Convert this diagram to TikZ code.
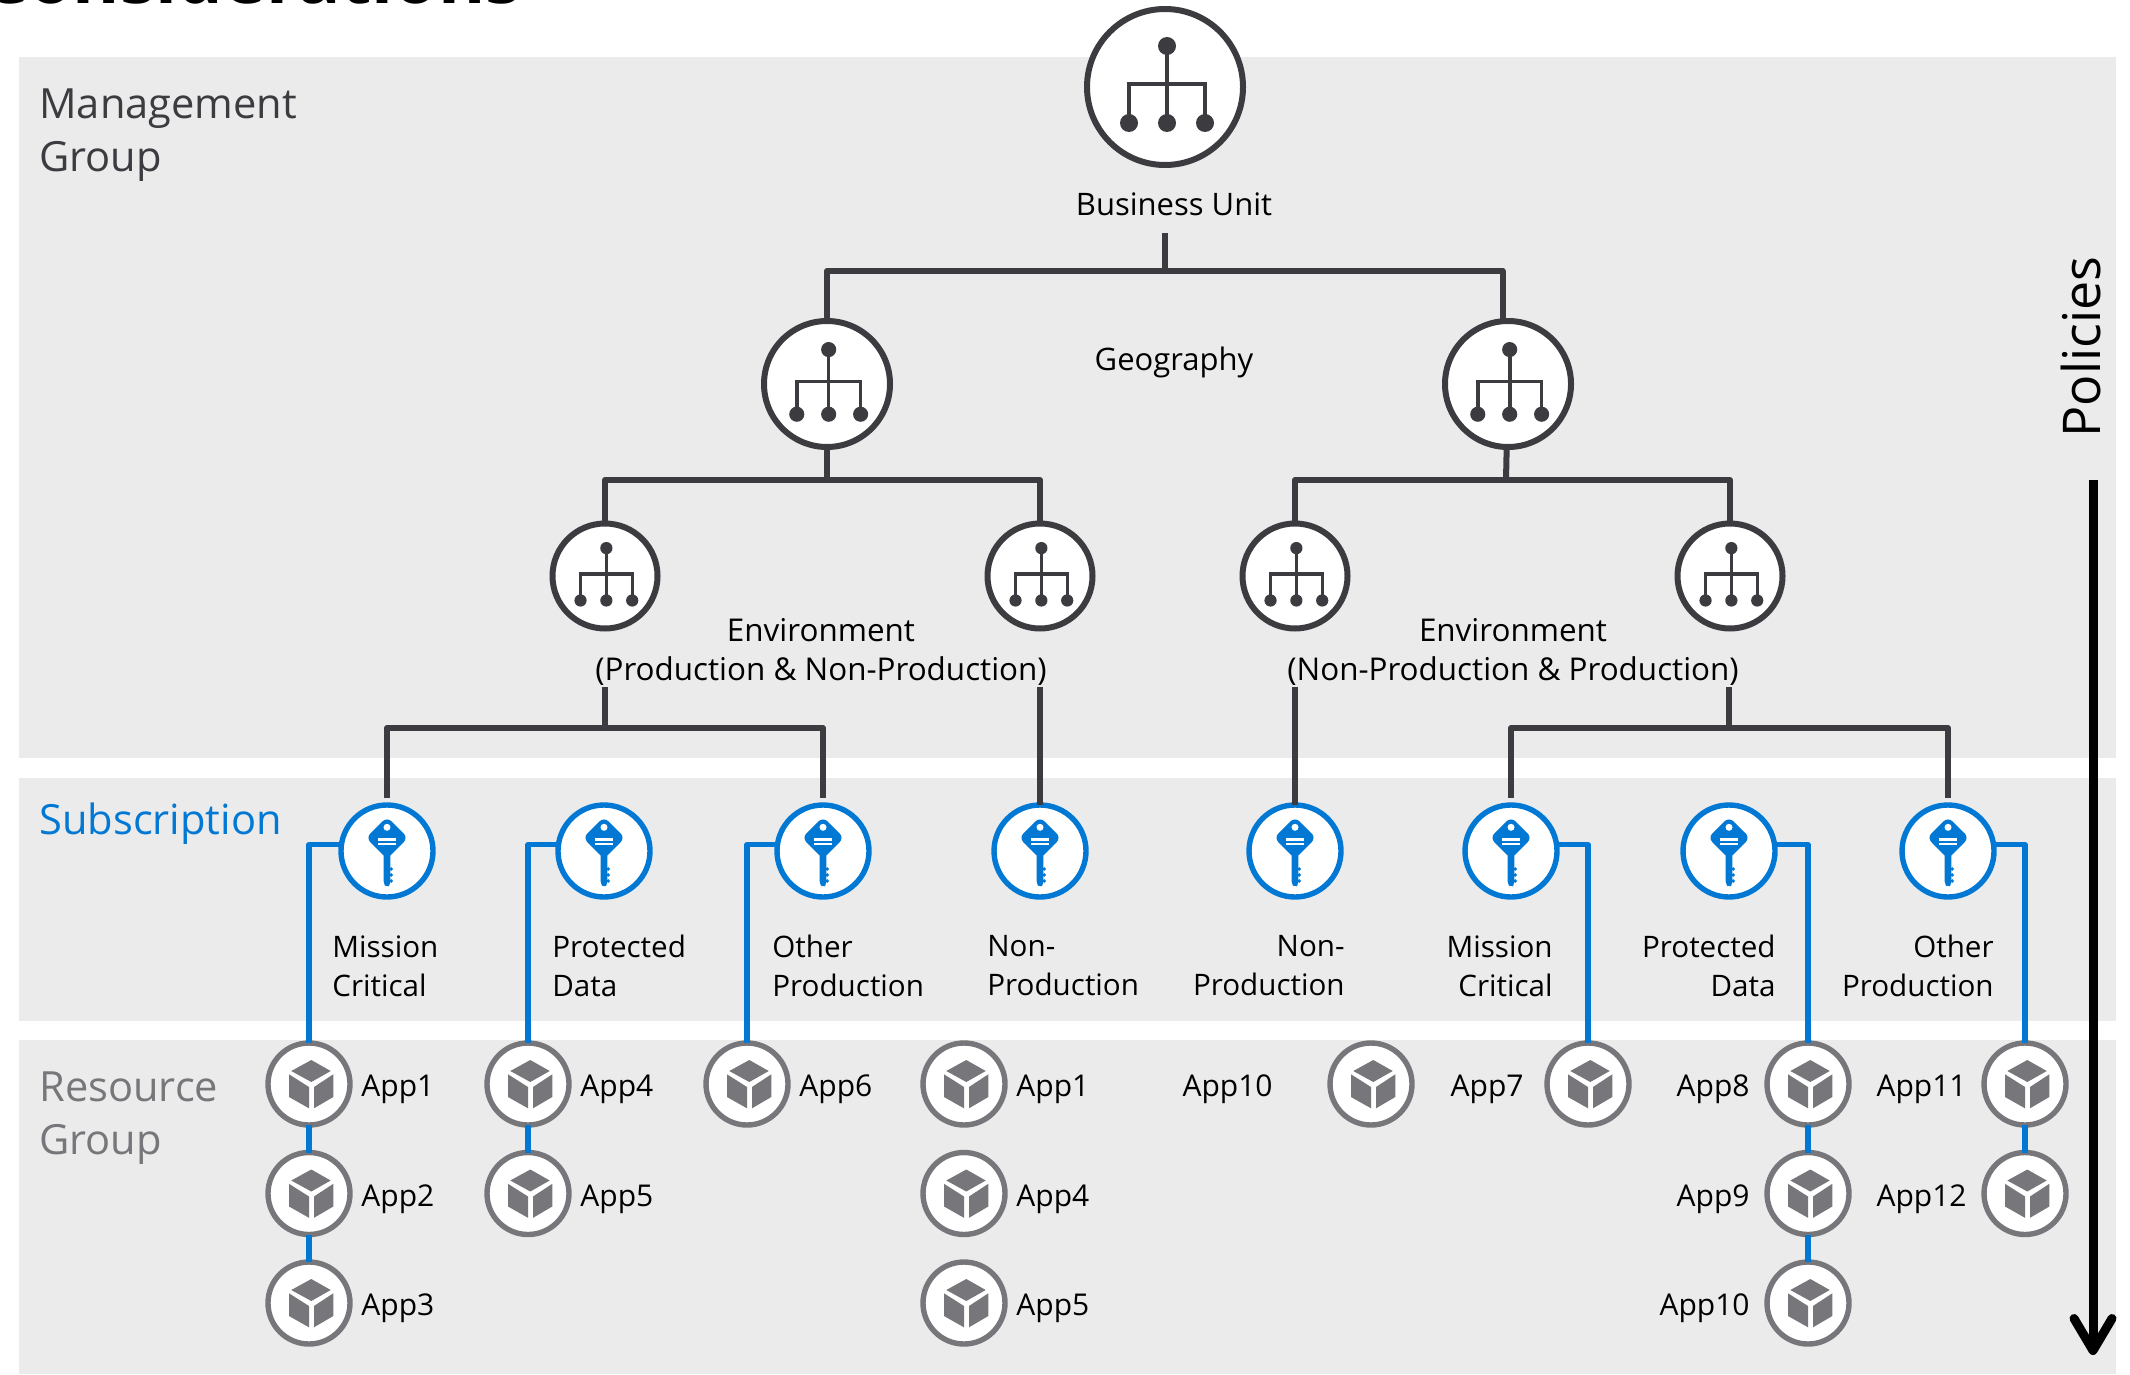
\documentclass[tikz,border=0pt]{standalone}
\usepackage{fontspec}
\setmainfont{Open Sans}
\usepackage{tikz}
\usetikzlibrary{arrows.meta}

\definecolor{bandgray}{HTML}{EBEBEB}
\definecolor{darkline}{HTML}{3C3B40}
\definecolor{azblue}{HTML}{0078D4}
\definecolor{cubegray}{HTML}{77777B}

\tikzset{
  hierglyph/.pic={
    \fill[darkline] (2,-41) circle (9) (-36,36) circle (9) (2,36) circle (9) (40,36) circle (9);
    \draw[darkline] (2,-41) -- (2,36) (-36,36) -- (-36,-3) -- (40,-3) -- (40,36);
  },
  keyglyph/.pic={
    \fill[azblue,rounded corners=3] (0,-34) -- (21,-13.3) -- (0,8) -- (-21,-13.3) -- cycle;
    \fill[azblue,rounded corners=1.5] (-3.3,0) -- (3.3,0) -- (3.3,34) -- (0,36) -- (-3.3,33.5) -- cycle;
    \fill[azblue] (4.3,18) circle (1.9) (4.3,24) circle (1.9) (4.3,30) circle (1.9);
    \fill[white] (0,-23.7) circle (3.5);
    \draw[white,line width=1.3pt] (-9,-11.7) -- (9,-11.7) (-9,-7) -- (9,-7);
  },
  cubeglyph/.pic={
    \fill[cubegray] (2.3,-24) -- (21.7,-13) -- (2.3,-2) -- (-17.7,-13) -- cycle;
    \fill[cubegray] (-20,-9.7) -- (0,3) -- (0,24.3) -- (-20,13) -- cycle;
    \fill[cubegray] (5,3) -- (24.3,-9.7) -- (24.3,13) -- (5,24.3) -- cycle;
  }
}

\begin{document}
\begin{tikzpicture}[x=0.5pt,y=-0.5pt,node distance=54.75pt,
    band/.style={fill=bandgray,draw=none},
    hiernode/.style={circle,draw=darkline,fill=white,line width=3pt,inner sep=0pt,outer sep=0pt},
    keynode/.style={circle,draw=azblue,fill=white,line width=2.7pt,inner sep=0pt,outer sep=0pt,minimum size=46pt},
    appnode/.style={circle,draw=cubegray,fill=white,line width=2.7pt,inner sep=0pt,outer sep=0pt,minimum size=41pt},
    tree/.style={draw=darkline,line width=3pt,line join=round},
    link/.style={draw=azblue,line width=2.8pt,line join=round},
    label/.style={font=\fontsize{15.5}{19.7}\selectfont,text=black,inner sep=0pt,align=center},
    envlabel/.style={font=\fontsize{15.7}{19.7}\selectfont,text=black,inner sep=0pt,align=center},
    sublabel/.style={font=\fontsize{14.8}{19.5}\selectfont,text=black,inner sep=0pt},
    applabel/.style={font=\fontsize{15}{19}\selectfont,text=black,inner sep=0pt,yshift=-2.7pt},
    side/.style={font=\fontsize{20.8}{26.5}\selectfont,inner sep=0pt,align=left,anchor=north west}]

	\useasboundingbox (0,0) rectangle (2130,1375);

	% bands
	\path[band] (19,57) rectangle (2116,758);
	\path[band] (19,778) rectangle (2116,1021);
	\path[band] (19,1040) rectangle (2116,1374);

	\node[anchor=base west,inner sep=0pt,font=\fontsize{36}{40}\selectfont\bfseries] (title) at (-18,3.5) {Considerations};

	\node[side,text=darkline] (mgmt) at (39,88) {Management\\Group};
	\node[side,text=azblue] (subs) at (39,802) {Subscription};
	\node[side,text=cubegray] (rgroup) at (39,1071) {Resource\\Group};

	% management groups
	\node[hiernode,minimum size=78pt] (bu) at (1165,87) {};
	\node[hiernode,minimum size=63pt] (geoL) at (827,384) {};
	\node[hiernode,minimum size=63pt] (geoR) at (1508,384) {};
	\node[hiernode,minimum size=52.5pt] (envA) at (605,576) {};
	\node[hiernode,minimum size=52.5pt] (envB) at (1040,576) {};
	\node[hiernode,minimum size=52.5pt] (envC) at (1295,576) {};
	\node[hiernode,minimum size=52.5pt] (envD) at (1730,576) {};

	\foreach \n/\s/\w in {bu/1/2,geoL/0.84/1.8,geoR/0.84/1.8,envA/0.68/1.65,envB/0.68/1.65,envC/0.68/1.65,envD/0.68/1.65}
		\pic[scale=\s,line width=\w pt] at (\n) {hierglyph};

	\node[label] (buText) at (1174,204) {Business Unit};
	\node[label] (geoText) at (1174,362) {Geography};
	\node[envlabel] (envTextL) at (821,652) {Environment\\(Production \& Non-Production)};
	\node[envlabel] (envTextR) at (1513,652) {Environment\\(Non-Production \& Production)};

	% subscriptions
	\node[keynode] (keyA) at (387,851) {};
	\node[keynode] (keyB) at (604,851) {};
	\node[keynode] (keyC) at (823,851) {};
	\node[keynode] (keyD) at (1040,851) {};
	\node[keynode] (keyE) at (1295,851) {};
	\node[keynode] (keyF) at (1511,851) {};
	\node[keynode] (keyG) at (1729,851) {};
	\node[keynode] (keyH) at (1948,851) {};

	\foreach \n in {keyA,keyB,keyC,keyD,keyE,keyF,keyG,keyH}
		\pic at (\n) {keyglyph};

	\node[sublabel,align=left,anchor=west] (subA) at (332,966) {Mission\\Critical};
	\node[sublabel,align=left,anchor=west] (subB) at (552,966) {Protected\\Data};
	\node[sublabel,align=left,anchor=west] (subC) at (772,966) {Other\\Production};
	\node[sublabel,align=left,anchor=west] (subD) at (987,966) {Non-\\Production};
	\node[sublabel,align=right,anchor=east] (subE) at (1345,966) {Non-\\Production};
	\node[sublabel,align=right,anchor=east] (subF) at (1553,966) {Mission\\Critical};
	\node[sublabel,align=right,anchor=east] (subG) at (1776,966) {Protected\\Data};
	\node[sublabel,align=right,anchor=east] (subH) at (1994,966) {Other\\Production};

	% resource groups
	\node[appnode] (a1) at (309,1084) {};
	\node[appnode] (a2) [below of=a1] {};
	\node[appnode] (a3) [below of=a2] {};
	\node[appnode] (b1) at (528,1084) {};
	\node[appnode] (b2) [below of=b1] {};
	\node[appnode] (c1) at (747,1084) {};
	\node[appnode] (d1) at (964,1084) {};
	\node[appnode] (d2) [below of=d1] {};
	\node[appnode] (d3) [below of=d2] {};
	\node[appnode] (e1) at (1371,1084) {};
	\node[appnode] (f1) at (1588,1084) {};
	\node[appnode] (g1) at (1808,1084) {};
	\node[appnode] (g2) [below of=g1] {};
	\node[appnode] (g3) [below of=g2] {};
	\node[appnode] (h1) at (2025,1084) {};
	\node[appnode] (h2) [below of=h1] {};

	\foreach \n in {a1,a2,a3,b1,b2,c1,d1,d2,d3,e1,f1,g1,g2,g3,h1,h2}
		\pic at (\n) {cubeglyph};

	\foreach \n/\t in {a1/App1,a2/App2,a3/App3,b1/App4,b2/App5,c1/App6,d1/App1,d2/App4,d3/App5}
		\node[applabel,anchor=west,xshift=26pt] (\n text) at (\n) {\t};
	\foreach \n/\t/\d in {e1/App10/49,f1/App7/32,g1/App8/29,g2/App9/29,g3/App10/29,h1/App11/29,h2/App12/29}
		\node[applabel,anchor=east,xshift=-\d pt] (\n text) at (\n) {\t};

	% connectors
	\coordinate (buStem) at (1165,233);
	\coordinate (buJoin) at (1165,271);
	\coordinate (joinL) at (827,480);
	\coordinate (joinR) at (1506,480);
	\coordinate (stemA) at (605,687);
	\coordinate (joinA) at (605,728);
	\coordinate (stemB) at (1040,687);
	\coordinate (stemC) at (1295,687);
	\coordinate (stemD) at (1729,687);
	\coordinate (joinD) at (1729,728);

	\path[tree]
	(buStem) edge (buJoin)
	(geoL) edge (joinL)
	(geoR) edge (joinR)
	(stemA) edge (joinA)
	(stemD) edge (joinD)
	(stemB) edge (keyD)
	(stemC) edge (keyE);
	\draw[tree] (geoL.north) |- (buJoin) -| (geoR.95);
	\draw[tree] (envA) |- (joinL) -| (envB);
	\draw[tree] (envC) |- (joinR) -| (envD);
	\draw[tree,shorten <=3.5pt,shorten >=3.5pt] (keyA) |- (joinA) -| (keyC);
	\draw[tree,shorten <=3.5pt,shorten >=3.5pt] (keyF) |- (joinD) -| (keyH);

	\draw[link] (keyA.172) -| (a1);
	\draw[link] (keyB.172) -| (b1);
	\draw[link] (keyC.172) -| (c1);
	\draw[link] (keyF.8) -| (f1);
	\draw[link] (keyG.8) -| (g1);
	\draw[link] (keyH.8) -| (h1);
	\path[link]
	(a1) edge (a2)
	(a2) edge (a3)
	(b1) edge (b2)
	(g1) edge (g2)
	(g2) edge (g3)
	(h1) edge (h2);

	% policies
	\node[font=\fontsize{26}{30}\selectfont,rotate=90,inner sep=0pt] (policies) at (2081,347) {Policies};
	\coordinate (polTop) at (2093,480);
	\coordinate (polEnd) at (2093,1355);
	\draw[line width=4.5pt,-{Straight Barb[length=16pt,width=19pt,line width=4.5pt,round]}] (polTop) -- (polEnd);

\end{tikzpicture}
\end{document}
